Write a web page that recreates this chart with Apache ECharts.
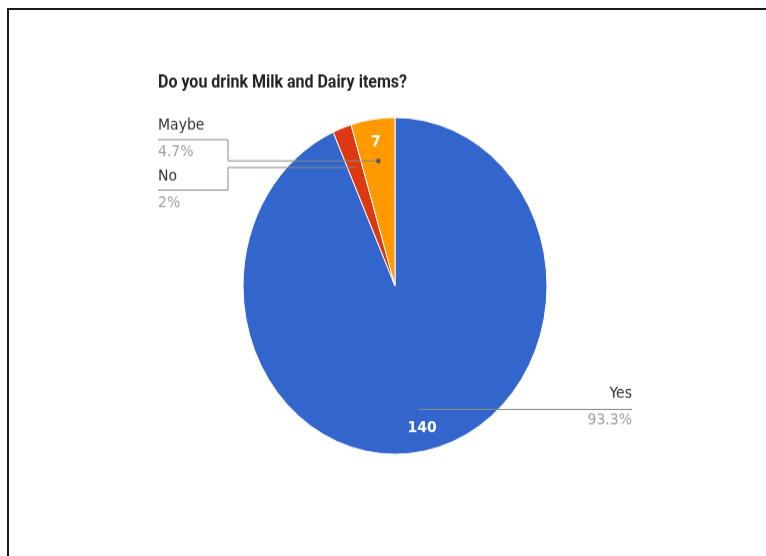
<!DOCTYPE html>
<html>
<head>
<meta charset="utf-8">
<script src="https://cdn.jsdelivr.net/npm/echarts@6/dist/echarts.min.js"></script>
<style>
  html, body { margin: 0; padding: 0; background: #fff; overflow: hidden; width: 766px; height: 556px; }
  .edge-top { position: absolute; left: 7px; top: 8px; width: 759px; height: 2px; background: #1a1a1a; }
  .edge-left { position: absolute; left: 7px; top: 8px; width: 2px; height: 548px; background: #1a1a1a; }
  /* source picture is stretched vertically, so stretch the chart too */
  #chart {
    position: absolute; left: 0; top: 0; width: 766px; height: 502px;
    transform: scaleY(1.108); transform-origin: 0 0;
  }
</style>
</head>
<body>
<div class="edge-top"></div>
<div class="edge-left"></div>
<div id="chart"></div>
<script>
// data
const categories = ["Yes", "No", "Maybe"];
const counts = [140, 3, 7];
const percents = ["93.3%", "2%", "4.7%"];
const colors = ["#3366cc", "#dc3912", "#ff9900"];

const cx = 395, cy = 258, R = 152;
const total = counts.reduce((a, b) => a + b, 0);

// point inside slice i, on its middle angle (clockwise from 12 o'clock)
function anchor(i, f) {
  const before = counts.slice(0, i).reduce((a, b) => a + b, 0);
  const mid = ((before + counts[i] / 2) / total) * Math.PI * 2;
  return [cx + Math.sin(mid) * R * f, cy - Math.cos(mid) * R * f];
}

const chart = echarts.init(document.getElementById("chart"));

const base = {
  type: "pie",
  center: [cx, cy],
  startAngle: 90,
  clockwise: true,
  silent: true,
  avoidLabelOverlap: false,
};

const dot = anchor(categories.indexOf("Maybe"), 0.75);

var option = {
  animation: false,
  title: {
    text: "Do you drink Milk and Dairy items?",
    left: 153,
    top: 62,
    textStyle: {
      fontFamily: "Roboto",
      fontSize: 16,
      fontWeight: "bold",
      color: "#222",
    },
  },
  // end dot of the Maybe leader line
  graphic: [
    {
      type: "circle",
      z: 100,
      shape: { cx: dot[0], cy: dot[1], r: 2.2 },
      style: { fill: "#555" },
      silent: true,
    },
  ],
  series: [
    {
      // the slices
      ...base,
      radius: [0, R],
      z: 2,
      itemStyle: { borderColor: "#fff", borderWidth: 1 },
      data: categories.map((name, i) => ({
        name: name,
        value: counts[i],
        itemStyle: { color: colors[i] },
      })),
      label: { show: false },
      labelLine: { show: false },
    },
    {
      // value labels inside the slices
      ...base,
      radius: [104, R],
      z: 3,
      itemStyle: { color: "transparent" },
      data: categories.map((name, i) => ({
        name: name,
        value: counts[i],
        label: { show: counts[i] / total > 0.03 },
      })),
      label: {
        position: "inside",
        formatter: "{c}",
        fontFamily: "DejaVu Sans",
        fontSize: 14,
        fontWeight: "bold",
        color: "#fff",
      },
      labelLine: { show: false },
    },
    {
      // outside labels with leader lines, drawn above the slices
      ...base,
      radius: [0, R],
      z: 4,
      itemStyle: { color: "transparent" },
      data: categories.map((name, i) => ({ name: name, value: counts[i] })),
      label: {
        show: true,
        position: "outside",
        formatter: (p) => "{n|" + p.name + "}\n{p|" + percents[p.dataIndex] + "}",
        rich: {
          n: { fontFamily: "DejaVu Sans", fontSize: 14, color: "#333", lineHeight: 24 },
          p: { fontFamily: "DejaVu Sans", fontSize: 14, color: "#a0a0a0", lineHeight: 24 },
        },
      },
      labelLine: {
        show: true,
        lineStyle: { color: "#8a8a8a", width: 1 },
      },
      labelLayout: function (params) {
        const i = params.dataIndex;
        const a = anchor(i, 0.75);
        if (categories[i] === "Yes") {
          return {
            x: 632, y: a[1] - 26, align: "right", verticalAlign: "top",
            labelLinePoints: [a, [600, a[1]], [632, a[1]]],
          };
        }
        if (categories[i] === "Maybe") {
          return {
            x: 158, y: 101, align: "left", verticalAlign: "top",
            labelLinePoints: [a, [228, a[1]], [228, 126], [158, 126]],
          };
        }
        return {
          x: 158, y: 147, align: "left", verticalAlign: "top",
          labelLinePoints: [a, [228, a[1]], [228, 171.5], [158, 171.5]],
        };
      },
    },
  ],
};

chart.setOption(option);
window.onresize = chart.resize;
</script>
</body>
</html>
